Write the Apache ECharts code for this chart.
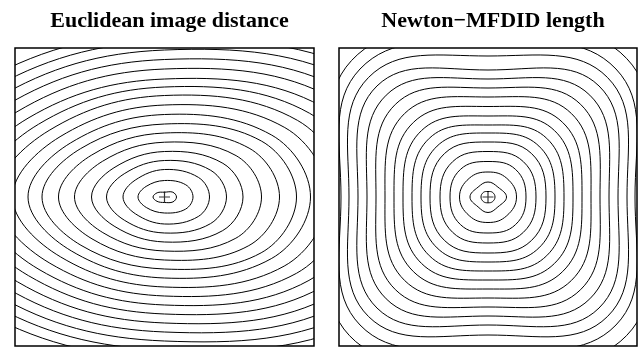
<!DOCTYPE html>
<html><head><meta charset="utf-8">
<script src="https://cdn.jsdelivr.net/npm/echarts@6/dist/echarts.min.js"></script>
<style>html,body{margin:0;padding:0;background:#fff}#c{width:638px;height:349px}</style>
</head><body><div id="c"></div>
<script>
// Ray directions (degrees, counter-clockwise from +x) along which each contour's distance from the minimum was read
const euclidRays = [0, 30, 90, 150, 180, 210, 270, 330];
const newtonRays = [0, 45, 90, 135, 180, 225, 270, 315];

// Left panel: Euclidean image distance, contour levels 1..18 (distance along each ray)
const euclidLevels = [
  [12, 9.6, 4.8, 8.45, 11.5, 8.64, 5.5, 9.8],
  [28.5, 24.5, 16.5, 21.2, 26.5, 21.0, 16, 24.3],
  [45, 39.2, 27.5, 33.8, 41.5, 33.6, 27, 39.0],
  [62, 53.4, 36.5, 46.5, 58, 46.4, 36, 53.2],
  [78.5, 67.4, 45.5, 58.4, 73, 58.2, 45, 67.2],
  [97, 82.7, 54.8, 71.5, 90, 71.2, 54, 82.4],
  [115, 97.7, 64, 84.0, 106, 83.7, 63, 97.3],
  [132, 111.9, 73, 96.8, 122.5, 96.5, 72, 111.6],
  [146, 123.8, 82.5, 108.3, 136.5, 107.7, 81, 123.3],
  [163, 138.9, 92, 120.6, 152, 119.9, 90, 138.2],
  [180, 153.4, 101.5, 133.2, 168, 132.4, 99, 152.5],
  [197, 167.5, 110, 145.5, 184, 144.9, 108, 166.8],
  [214, 181.4, 118, 157.6, 200, 157.2, 117, 181.0],
  [231, 196.0, 128, 170.4, 216, 169.7, 126, 195.3],
  [248, 210.5, 137.5, 183.1, 232, 182.2, 135, 209.6],
  [265, 225.0, 147, 195.6, 248, 194.7, 144, 223.9],
  [282, 239.3, 156, 208.1, 264, 207.1, 153, 238.1],
  [299, 253.5, 165, 220.6, 280, 219.6, 162, 252.4]
];

// Right panel: Newton-MFDID length, contour levels 1..17
const newtonLevels = [
  [7, 6.5, 5.5, 6.5, 7, 6.5, 5.8, 6.5],
  [18.5, 14, 15, 14, 18, 14, 15.5, 14],
  [28.5, 26.5, 25, 26.5, 28.5, 26.5, 25.5, 26.5],
  [38, 39, 35.5, 39, 38, 39, 36, 39],
  [48, 50, 45.5, 50, 48, 50, 46, 50],
  [58, 61.5, 55, 61.5, 58, 61.5, 56, 61.5],
  [67, 72, 64, 72, 67, 72, 65, 72],
  [76, 83, 72, 83, 76, 83, 74, 83],
  [85, 94, 81, 94, 85, 94, 83, 94],
  [94, 105.5, 90.5, 105.5, 94, 105.5, 92, 105.5],
  [103, 118, 100, 118, 103, 118, 101, 118],
  [112, 131, 109, 131, 112, 131, 110, 131],
  [121, 144, 118, 144, 121, 144, 119, 144],
  [130, 157, 127, 157, 130, 157, 128, 157],
  [139, 169, 141, 169, 139, 169, 138, 169],
  [147, 181, 155, 181, 147, 181, 152, 181],
  [160, 196, 168, 193, 156, 196, 165, 196]
];

// Location of the true minimum (marked with +)
const minimumPoint = [[0, 0]];

const panelTitles = ['Euclidean image distance', 'Newton\u2212MFDID length'];

function contourRenderer(levels, rays, smooth) {
  return function (params, api) {
    const radii = levels[api.value(0)];
    const pts = radii.map((r, i) => {
      const a = rays[i] * Math.PI / 180;
      return api.coord([r * Math.cos(a), r * Math.sin(a)]);
    });
    const cs = params.coordSys;
    return {
      type: 'group',
      clipPath: { type: 'rect', shape: { x: cs.x, y: cs.y, width: cs.width, height: cs.height } },
      children: [{
        type: 'polygon',
        shape: { points: pts, smooth: smooth },
        style: { fill: 'none', stroke: '#000', lineWidth: 1 }
      }]
    };
  };
}

const series = [];
[[euclidLevels, euclidRays, 0.375], [newtonLevels, newtonRays, 0.42]].forEach(([levels, rays, sm], p) => {
  series.push({
    type: 'custom', xAxisIndex: p, yAxisIndex: p, clip: true, silent: true,
    data: levels.map((_, i) => [i]),
    renderItem: contourRenderer(levels, rays, sm)
  });
  series.push({
    type: 'scatter', xAxisIndex: p, yAxisIndex: p, data: minimumPoint,
    symbol: 'path://M0,5L10,5M5,0L5,10', symbolSize: 11, silent: true,
    itemStyle: { color: 'none', borderColor: '#000', borderWidth: 1.2 }
  });
});

const chart = echarts.init(document.getElementById('c'), null, { renderer: 'canvas' });
const axisOff = { show: false };
const titleStyle = { fontFamily: 'Liberation Serif', fontWeight: 'bold', fontSize: 22, color: '#000' };
chart.setOption({
  animation: false,
  backgroundColor: '#fff',
  title: [
    { text: panelTitles[0], left: 164.5, top: 5, textAlign: 'center', textStyle: titleStyle },
    { text: panelTitles[1], left: 488, top: 5, textAlign: 'center', textStyle: titleStyle }
  ],
  grid: [
    { left: 15, top: 48, width: 299, height: 298, show: true, borderColor: '#000', borderWidth: 1.5, backgroundColor: 'transparent' },
    { left: 339, top: 48, width: 298, height: 298, show: true, borderColor: '#000', borderWidth: 1.5, backgroundColor: 'transparent' }
  ],
  xAxis: [
    Object.assign({ type: 'value', gridIndex: 0, min: -149.5, max: 149.5 }, axisOff),
    Object.assign({ type: 'value', gridIndex: 1, min: -149, max: 149 }, axisOff)
  ],
  yAxis: [
    Object.assign({ type: 'value', gridIndex: 0, min: -149, max: 149 }, axisOff),
    Object.assign({ type: 'value', gridIndex: 1, min: -149, max: 149 }, axisOff)
  ],
  series: series
});
</script>
</body></html>
